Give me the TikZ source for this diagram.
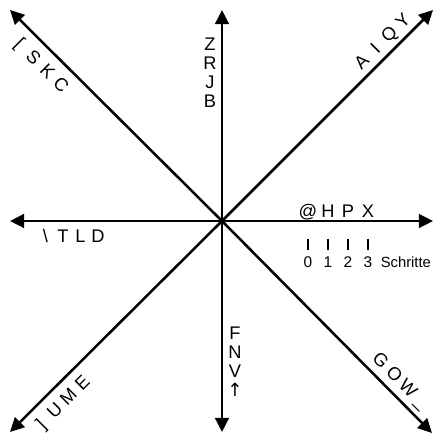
\documentclass[tikz,border=0pt]{standalone}
\usepackage{fontspec}
\setmainfont{Liberation Sans}
\newfontfamily\arrowfont{DejaVu Sans}
\usetikzlibrary{arrows.meta,calc}
\newcommand\lrow[4]{\makebox[0.4875cm]{#1}\makebox[0.4875cm]{#2}\makebox[0.4875cm]{#3}\makebox[0.4875cm]{#4}}

\begin{document}
\begin{tikzpicture}[x=0.025cm,y=0.025cm,
  ar/.style={line width=1.8pt,-{Triangle[length=3.5mm,width=3.4mm]}},
  lb/.style={inner sep=0pt,font=\fontsize{13}{13}\selectfont,text height=9.3pt,text depth=0pt},
  nb/.style={inner sep=0pt,font=\fontsize{11}{11}\selectfont,anchor=base}]
\useasboundingbox (-222,-213) rectangle (214,221);
\coordinate (o) at (0,0);
\coordinate (tn) at (0,211);   \coordinate (ts) at (0,-211);
\coordinate (te) at (211,0);   \coordinate (tw) at (-212,0);
\coordinate (tne) at (211,211); \coordinate (tnw) at (-212,211);
\coordinate (tse) at (210,-212); \coordinate (tsw) at (-212,-211);
\foreach \t in {tn,ts,te,tw,tne,tnw,tse,tsw}
  \draw[ar] (o) -- (\t);
% horizontal and vertical
\foreach \c [count=\i from 0] in {@,H,P,X}
  \node[lb,anchor=base] (e\i) at (86+20*\i,3) {\c};
\foreach \c [count=\i from 0] in {B,J,R,Z}
  \node[lb] (n\i) at (-12,120+19*\i) {\c};
\foreach \c [count=\i from 0] in {F,N,V,{\arrowfont ↑}}
  \node[lb] (s\i) at (13,-112-19*\i) {\c};
\foreach \c [count=\i from 0] in {D,L,T,\textbackslash}
  \node[lb,anchor=base] (w\i) at (-124-17.5*\i,-22) {\c};
% diagonals
\node[lb,rotate=45]  (ne) at ($(45:240.25)+(135:14)$)  {\lrow{A}{I}{Q}{Y}};
\node[lb,rotate=-45] (se) at ($(-45:240.25)+(45:14)$)  {\lrow{G}{O}{W}{\_}};
\node[lb,rotate=-45] (nw) at ($(135:239.25)+(225:17)$) {\lrow{[}{S}{K}{C}};
\node[lb,rotate=45]  (sw) at ($(225:242.25)+(-45:15)$) {\lrow{]}{U}{M}{E}};
% scale
\foreach \i in {0,...,3}{
  \draw[line width=0.9pt] (86+20*\i,-18) -- ++(0,-11);
  \node[nb] (d\i) at (86+20*\i,-47) {\i};}
\node[nb,anchor=base west,font=\fontsize{10.5}{10.5}\selectfont] (sch) at ($(d3.base east)+(8,0)$) {Schritte};
\end{tikzpicture}
\end{document}
